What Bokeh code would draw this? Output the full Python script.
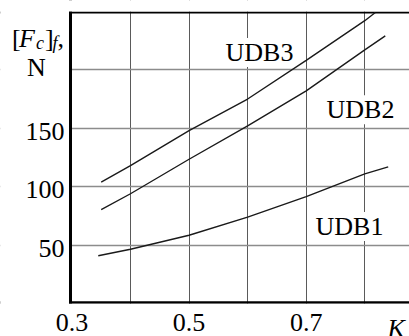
from bokeh.plotting import figure
from bokeh.models import (Range1d, FixedTicker, Grid, Label, LabelSet, ColumnDataSource,
                          BoxAnnotation)
from bokeh.embed import file_html
from bokeh.resources import INLINE

# ---- data ----
k_udb1 = [0.345, 0.4, 0.5, 0.6, 0.7, 0.8, 0.84]
f_udb1 = [41, 46.5, 58.5, 74, 91.5, 111, 117]
k_udb2 = [0.35, 0.4, 0.5, 0.6, 0.7, 0.8, 0.835]
f_udb2 = [80.5, 94, 123.5, 152, 182, 217, 229]
k_udb3 = [0.35, 0.4, 0.5, 0.6, 0.7, 0.8, 0.818]
f_udb3 = [104, 118, 148, 175, 208, 242, 249]

x_grid = [0.4, 0.5, 0.6, 0.7, 0.8]
x_tick_vals = [0.3, 0.5, 0.7]
x_tick_text = ["0.3", "0.5", "0.7"]
y_grid = [50, 100, 150, 200]
y_tick_vals = [50, 100, 150]
y_tick_text = ["50", "100", "150"]

# ---- geometry (pixel <-> data) ----
W, H = 409, 336
BOX_L, BOX_B, BOX_T = 70, 302, 12          # plot box edges in pixels
X_AT_L, Y_AT_B = 0.2976, 1.0               # data values at the box's left / bottom edge
PX_PER_X, PX_PER_Y = 585.75, 290 / 248


def sx(px):
    return X_AT_L + (px - BOX_L) / PX_PER_X


def sy(py):
    return Y_AT_B + (BOX_B - py) / PX_PER_Y


X_MIN, X_MAX = sx(BOX_L), sx(W)
Y_MIN, Y_MAX = sy(BOX_B), sy(BOX_T)

SERIF = "Liberation Serif"

p = figure(width=W, height=H, output_backend="svg", toolbar_location=None,
           x_range=Range1d(sx(0), sx(W)), y_range=Range1d(sy(H), sy(0)),
           x_axis_location=None, y_axis_location=None, min_border=0)
p.title.visible = False
p.outline_line_color = None
p.background_fill_color = "white"
p.border_fill_color = "white"

# grid lines
p.xgrid.ticker = FixedTicker(ticks=x_grid)
p.xgrid.grid_line_color = "#5a5a5a"
p.xgrid.grid_line_width = 1
p.ygrid.ticker = FixedTicker(ticks=y_grid)
p.ygrid.grid_line_color = "#8c8c8c"
p.ygrid.grid_line_width = 1.6

# box edges (left, bottom, top)
p.add_layout(Grid(dimension=0, ticker=FixedTicker(ticks=[X_MIN]),
                  grid_line_color="black", grid_line_width=3))
p.add_layout(Grid(dimension=1, ticker=FixedTicker(ticks=[Y_MIN]),
                  grid_line_color="black", grid_line_width=2.5))
p.add_layout(Grid(dimension=1, ticker=FixedTicker(ticks=[Y_MAX]),
                  grid_line_color="black", grid_line_width=2))

# white margins outside the plot box (hide the grid there)
for kw in (dict(right=sx(BOX_L - 1.5)), dict(top=sy(BOX_B + 1.3)), dict(bottom=sy(BOX_T - 1.0))):
    p.add_layout(BoxAnnotation(fill_color="white", fill_alpha=1, line_color=None, **kw))

# curves
for kx, fy in ((k_udb1, f_udb1), (k_udb2, f_udb2), (k_udb3, f_udb3)):
    p.line(kx, fy, line_color="#1a1a1a", line_width=1.4)

# curve labels (white background knocks out grid)
for txt, px, py in (("UDB3", 225, 52), ("UDB2", 326, 109.3), ("UDB1", 315, 226)):
    p.add_layout(Label(x=sx(px), y=sy(py), text=txt, text_font=SERIF, text_font_size="26px",
                       text_color="black", text_align="left", text_baseline="alphabetic",
                       background_fill_color="white"))

# tick labels
xsrc = ColumnDataSource(dict(x=x_tick_vals, y=[sy(330)] * len(x_tick_vals), t=x_tick_text))
p.add_layout(LabelSet(x="x", y="y", text="t", source=xsrc, text_font=SERIF,
                      text_font_size="26px", text_color="black", text_align="center",
                      text_baseline="alphabetic"))
ysrc = ColumnDataSource(dict(x=[sx(64)] * len(y_tick_vals),
                             y=[v - 11.5 / PX_PER_Y for v in y_tick_vals], t=y_tick_text))
p.add_layout(LabelSet(x="x", y="y", text="t", source=ysrc, text_font=SERIF,
                      text_font_size="26px", text_color="black", text_align="right",
                      text_baseline="alphabetic"))

# axis titles
pieces = [
    ("K", 387, 328, "26px", "italic"),
    ("[", 11.5, 37.5, "26px", "normal"),
    ("F", 18.5, 37.5, "26px", "italic"),
    ("c", 35.5, 42, "18px", "italic"),
    ("]", 44.5, 37.5, "26px", "normal"),
    ("f", 52, 42, "18px", "italic"),
    (",", 57, 37.5, "26px", "normal"),
    ("N", 26.5, 66.7, "26px", "normal"),
]
for txt, px, py, fs, st in pieces:
    p.add_layout(Label(x=sx(px), y=sy(py), text=txt, text_font=SERIF, text_font_size=fs,
                       text_font_style=st, text_color="black", text_align="left",
                       text_baseline="alphabetic"))

open("out.html", "w").write(file_html(p, INLINE))
